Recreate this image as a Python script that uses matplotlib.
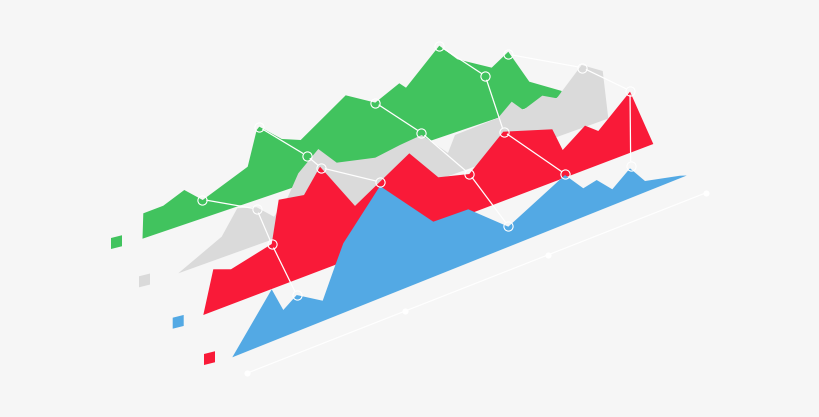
import matplotlib
matplotlib.use("Agg")
import matplotlib.pyplot as plt
import numpy as np
from matplotlib.transforms import Affine2D

# distance along each baseline, height above it
green_x = [0.8, 20.8, 41.8, 60.2, 105.2, 114.2, 116.8, 139.2, 158.2, 203.2, 232.8, 256.8, 263.5, 296.8, 314.8, 349.2, 365.8, 386.8, 419.2]
green_y = [25.1, 25.9, 34.5, 18.2, 36.2, 69.9, 72.3, 52.4, 44.9, 74.3, 56.9, 68.1, 61.4, 92.1, 72.4, 52.3, 62.6, 25.5, 5.2]
grey_x = [43.4, 59, 78.4, 95.7, 109.7, 120, 140, 158.4, 197, 221.7, 243.4, 269.7, 276.7, 319.7, 333.4, 345, 364, 378.4, 403.4, 424.4]
grey_y = [21, 43.8, 37.8, 22.1, 37.1, 56.8, 73.9, 53.6, 44.7, 48.5, 50.7, 23.2, 38.7, 40.2, 51.6, 39.1, 46.6, 38.8, 63.1, 49.5]
red_x = [10, 27.7, 68.4, 75.4, 100.7, 116.7, 151.7, 206, 235, 266, 300, 349, 359.4, 381.7, 395, 426.7]
red_y = [41.9, 35.2, 45, 86.6, 81.7, 104, 51.4, 83.4, 48.4, 39.9, 69.3, 53.1, 28.4, 44.3, 33.9, 61.2]
blue_x = [39.4, 51, 64.4, 90.4, 102.7, 111, 147.7, 201, 236, 276, 332.7, 351, 364.4, 380, 397.7, 412.7, 447.7]
blue_y = [52.2, 26.9, 36.5, 20.4, 50.2, 69.6, 112.2, 55.2, 53.6, 20.2, 49.2, 28.6, 31.5, 16, 29.9, 11.2, 2.5]

# the five marked points, one list per series
green_px = [60, 116.5, 232.8, 296.8, 365.8]
green_py = [18.8, 72.1, 56.9, 92.1, 60]
grey_px = [78.4, 128.4, 243, 307, 404]
grey_py = [36.1, 71.4, 53.1, 86.8, 60.2]
red_px = [68.4, 117.7, 266.2, 300.4, 426.7]
red_py = [45, 102.6, 39.8, 69.2, 62.2]
blue_px = [64.4, 147.9, 276, 332.9, 398.4]
blue_py = [36.5, 116.1, 20.9, 50.1, 32.3]

axis_x = [0, 158.3, 301, 459.3]
axis_y = [0, 0, 0, 0]

W, H = 820, 417
BG = "#f6f6f6"
RING = 4.6


def skew(x0, y0, slope):
    return Affine2D.from_values(1, slope, 0, 1, x0, H - y0)


fig = plt.figure(figsize=(W / 100, H / 100), dpi=100, facecolor=BG)
ax = fig.add_axes([0, 0, 1, 1])
ax.set_xlim(0, W)
ax.set_ylim(0, H)
ax.axis("off")

# back to front: start of baseline, slope, length, colour
series = [
    (green_x, green_y, green_px, green_py, 142.5, 238.7, 0.34, 419.2, "#41c35e"),
    (grey_x, grey_y, grey_px, grey_py, 178.3, 273.3, 0.36, 430, "#dadada"),
    (red_x, red_y, red_px, red_py, 203.3, 315, 0.38, 450, "#f91a38"),
    (blue_x, blue_y, blue_px, blue_py, 232.3, 357.3, 0.40, 454.4, "#53a9e4"),
]

chains = []
for xs, ys, px, py, x0, y0, slope, length, col in series:
    tr = skew(x0, y0, slope)
    ax.fill([0] + xs + [length], [0] + ys + [0], color=col, lw=0, transform=tr + ax.transData, zorder=2)
    chains.append(tr.transform(list(zip(px, py))))

# white lines across the series stop at the rings
for i in range(5):
    pts = [c[i] for c in chains]
    for a, b in zip(pts[:-1], pts[1:]):
        d = (b - a) / np.hypot(*(b - a)) * RING
        ax.plot([a[0] + d[0], b[0] - d[0]], [a[1] + d[1], b[1] - d[1]], color="white", lw=0.9, zorder=3)
    ax.plot([p[0] for p in pts], [p[1] for p in pts], ls="none", zorder=3,
            marker="o", ms=RING * 2 * 0.72, mfc="none", mec="white", mew=0.8)

# floor line
tr = skew(246.7, 373.3, 0.393)
ax.plot(axis_x, axis_y, color="white", lw=0.9, marker="o", ms=4.5, mec="none", transform=tr + ax.transData, zorder=1)

# small legend tiles
for x0, y0, col in [(111, 249, "#41c35e"), (139, 287.3, "#dadada"), (172.7, 328.7, "#53a9e4"), (204, 365, "#f91a38")]:
    tr = skew(x0, y0, 0.25)
    ax.fill([0, 11, 11, 0], [0, 0, 11, 11], color=col, lw=0, transform=tr + ax.transData, zorder=2)

fig.savefig("out.png", dpi=100, facecolor=BG)
